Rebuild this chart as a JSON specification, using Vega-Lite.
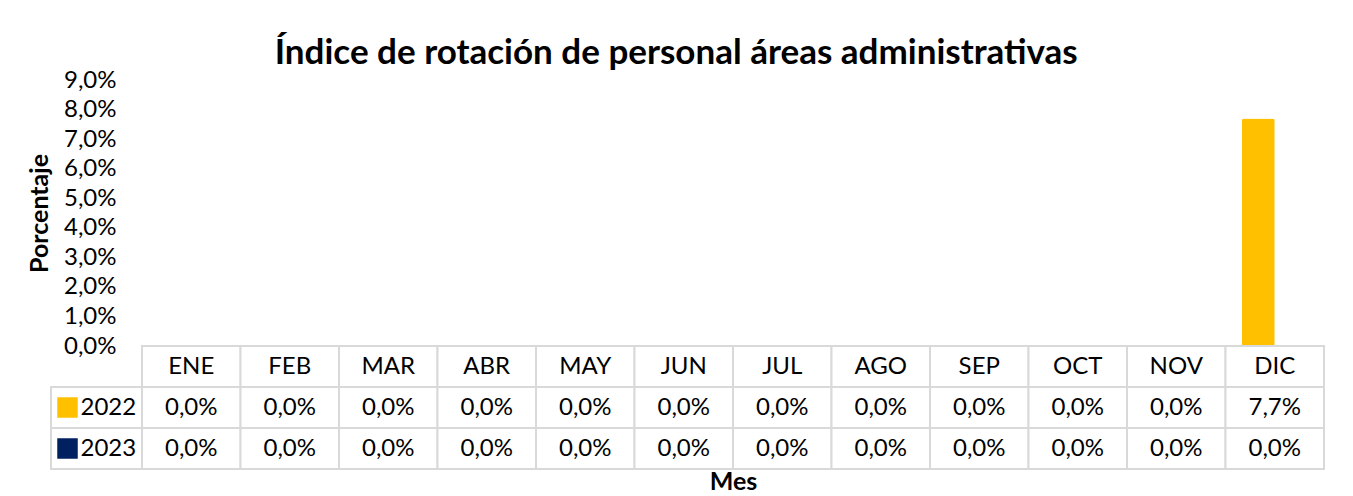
{
  "$schema": "https://vega.github.io/schema/vega-lite/v6.json",
  "background": "white",
  "padding": {"left": 27, "top": 36, "right": 28, "bottom": 0},
  "title": {"text": "Índice de rotación de personal áreas administrativas", "fontSize": 35, "fontWeight": "bold", "color": "black", "anchor": "middle", "offset": -3},
  "datasets": {
    "rot": [
      {"mes": "ENE", "anio": "2022", "valor": 0}, {"mes": "ENE", "anio": "2023", "valor": 0},
      {"mes": "FEB", "anio": "2022", "valor": 0}, {"mes": "FEB", "anio": "2023", "valor": 0},
      {"mes": "MAR", "anio": "2022", "valor": 0}, {"mes": "MAR", "anio": "2023", "valor": 0},
      {"mes": "ABR", "anio": "2022", "valor": 0}, {"mes": "ABR", "anio": "2023", "valor": 0},
      {"mes": "MAY", "anio": "2022", "valor": 0}, {"mes": "MAY", "anio": "2023", "valor": 0},
      {"mes": "JUN", "anio": "2022", "valor": 0}, {"mes": "JUN", "anio": "2023", "valor": 0},
      {"mes": "JUL", "anio": "2022", "valor": 0}, {"mes": "JUL", "anio": "2023", "valor": 0},
      {"mes": "AGO", "anio": "2022", "valor": 0}, {"mes": "AGO", "anio": "2023", "valor": 0},
      {"mes": "SEP", "anio": "2022", "valor": 0}, {"mes": "SEP", "anio": "2023", "valor": 0},
      {"mes": "OCT", "anio": "2022", "valor": 0}, {"mes": "OCT", "anio": "2023", "valor": 0},
      {"mes": "NOV", "anio": "2022", "valor": 0}, {"mes": "NOV", "anio": "2023", "valor": 0},
      {"mes": "DIC", "anio": "2022", "valor": 0.077}, {"mes": "DIC", "anio": "2023", "valor": 0}
    ]
  },
  "columns": 2,
  "spacing": 0,
  "bounds": "flush",
  "concat": [
    {
      "width": 91, "height": 266,
      "data": {"values": [{}]},
      "mark": {"type": "text", "text": ""}
    },
    {
      "width": 1182, "height": 266,
      "data": {"name": "rot"},
      "mark": {"type": "bar", "cornerRadius": 2},
      "encoding": {
        "x": {"field": "mes", "type": "nominal", "sort": ["ENE","FEB","MAR","ABR","MAY","JUN","JUL","AGO","SEP","OCT","NOV","DIC"], "scale": {"paddingInner": 0, "paddingOuter": 0}, "axis": null},
        "xOffset": {"field": "anio", "type": "nominal", "sort": ["2022","2023"], "scale": {"paddingInner": 0, "paddingOuter": 0.5}},
        "y": {"field": "valor", "type": "quantitative", "scale": {"domain": [0, 0.09], "nice": false},
              "axis": {"values": [0,0.01,0.02,0.03,0.04,0.05,0.06,0.07,0.08,0.09], "format": ".1%", "title": "Porcentaje", "titleFontSize": 25, "titleFontWeight": "bold", "titleColor": "black", "labelFontSize": 24, "labelColor": "black", "labelOverlap": false, "labelFlush": false, "ticks": false, "domain": false, "grid": false, "labelPadding": 26, "titlePadding": 11}},
        "color": {"field": "anio", "type": "nominal", "scale": {"domain": ["2022","2023"], "range": ["#FFC000","#002060"]}, "legend": null}
      }
    },
    {
      "width": 91, "height": 123,
      "data": {"name": "rot"},
      "transform": [{"filter": "datum.mes == 'ENE'"}],
      "encoding": {
        "y": {"field": "anio", "type": "nominal", "scale": {"domain": ["hdr","2022","2023"], "paddingInner": 0, "paddingOuter": 0}, "axis": null}
      },
      "layer": [
        {"mark": {"type": "rect", "fill": "white", "stroke": "#d9d9d9", "strokeWidth": 2}},
        {"mark": {"type": "point", "shape": "square", "filled": true, "size": 420, "opacity": 1, "xOffset": -29},
         "encoding": {"color": {"field": "anio", "type": "nominal", "scale": {"domain": ["2022","2023"], "range": ["#FFC000","#002060"]}, "legend": null}}},
        {"mark": {"type": "text", "align": "left", "fontSize": 24, "dx": -16, "color": "black"},
         "encoding": {"text": {"field": "anio"}}}
      ]
    },
    {
      "width": 1182, "height": 123,
      "data": {"name": "rot"},
      "encoding": {
        "x": {"field": "mes", "type": "nominal", "sort": ["ENE","FEB","MAR","ABR","MAY","JUN","JUL","AGO","SEP","OCT","NOV","DIC"], "scale": {"paddingInner": 0, "paddingOuter": 0},
              "axis": {"title": "Mes", "labels": false, "ticks": false, "domain": false, "grid": false, "titleFontSize": 25, "titleFontWeight": "bold", "titleColor": "black", "titlePadding": 0}}
      },
      "layer": [
        {"transform": [{"filter": "datum.anio == '2022'"}],
         "mark": {"type": "rect", "fill": "white", "stroke": "#d9d9d9", "strokeWidth": 2},
         "encoding": {"y": {"datum": "hdr", "type": "nominal", "scale": {"domain": ["hdr","2022","2023"], "paddingInner": 0, "paddingOuter": 0}, "axis": null}}},
        {"mark": {"type": "rect", "fill": "white", "stroke": "#d9d9d9", "strokeWidth": 2},
         "encoding": {"y": {"field": "anio", "type": "nominal", "axis": null}}},
        {"transform": [{"filter": "datum.anio == '2022'"}],
         "mark": {"type": "text", "fontSize": 24, "color": "black"},
         "encoding": {"y": {"datum": "hdr", "type": "nominal"}, "text": {"field": "mes"}}},
        {"mark": {"type": "text", "fontSize": 24, "color": "black"},
         "encoding": {"y": {"field": "anio", "type": "nominal"}, "text": {"field": "valor", "type": "quantitative", "format": ".1%"}}}
      ]
    }
  ],
  "config": {
    "font": "Lato",
    "view": {"stroke": null},
    "locale": {"number": {"decimal": ",", "thousands": ".", "grouping": [3], "currency": ["", " €"]}}
  }
}
